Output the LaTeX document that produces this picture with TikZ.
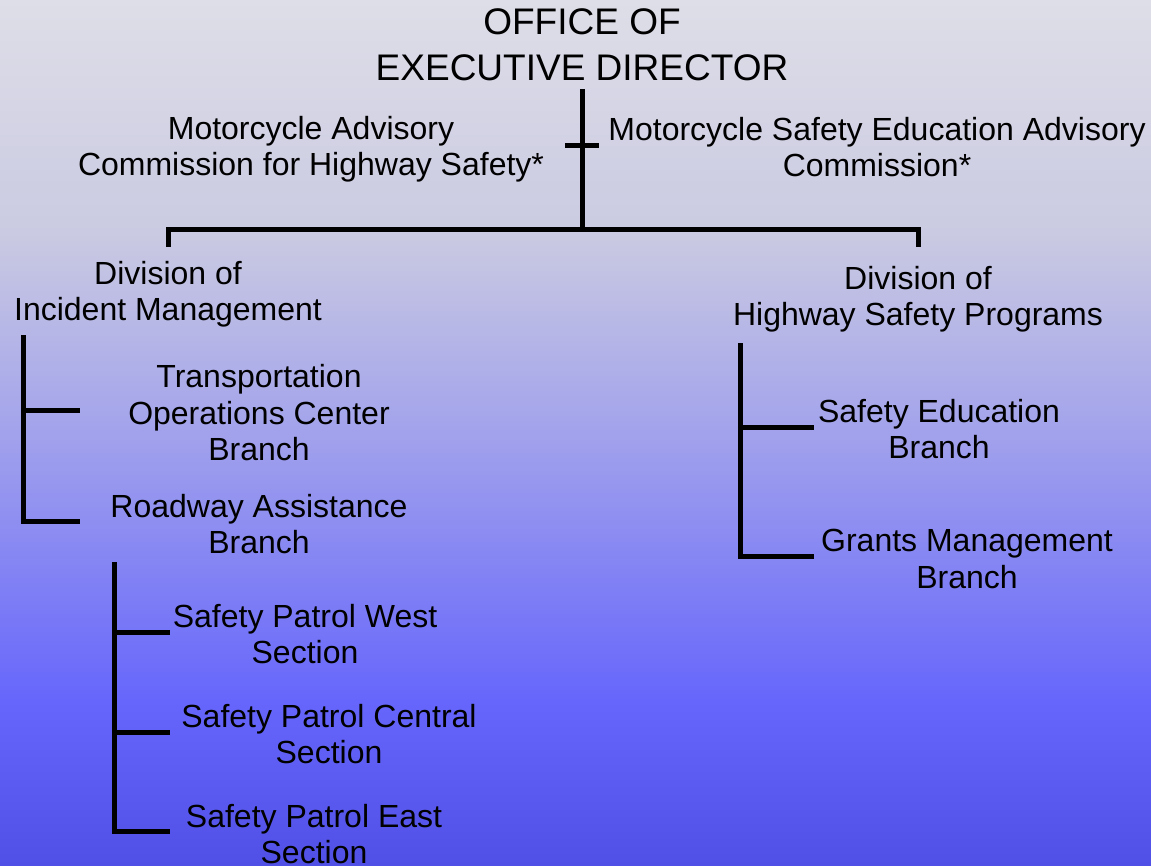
\documentclass[tikz,border=0pt]{standalone}
\usepackage{fontspec}
\setmainfont{Liberation Sans}
\definecolor{bgA}{RGB}{222,222,232}
\definecolor{bgB}{RGB}{202,202,226}
\definecolor{bgC}{RGB}{162,162,236}
\definecolor{bgD}{RGB}{102,102,252}
\definecolor{bgE}{RGB}{80,80,230}
% the path is mapped onto 25bp..75bp of the shading
\pgfdeclareverticalshading{bgshade}{100bp}{
  color(0bp)=(bgE);
  color(25bp)=(bgE);
  color(34.5bp)=(bgD);
  color(50bp)=(bgC);
  color(61.5bp)=(bgB);
  color(75bp)=(bgA);
  color(100bp)=(bgA)}
\begin{document}
\begin{tikzpicture}[x=1pt,y=-1pt,
  lbl/.style={inner sep=0pt,align=center,font=\fontsize{32}{36.5}\selectfont},
  ttl/.style={inner sep=0pt,align=center,font=\fontsize{37}{46}\selectfont},
  conn/.style={line width=5pt,line cap=rect,line join=miter}]
\shade[shading=bgshade] (0,0) rectangle (1151,865);
\useasboundingbox (0,0) rectangle (1151,865);
% texts
\node[ttl] (ed) at (582,45) {OFFICE OF\\EXECUTIVE DIRECTOR};
\node[lbl] (mac) at (311,149) {Motorcycle Advisory\\Commission for Highway Safety*};
\node[lbl] (msea) at (877,147) {Motorcycle Safety Education Advisory\\Commission*};
\node[lbl] (dim) at (168,294) {Division of\\Incident Management};
\node[lbl] (dhsp) at (918,299) {Division of\\Highway Safety Programs};
\node[lbl] (toc) at (259,413) {Transportation\\Operations Center\\Branch};
\node[lbl] (rab) at (259,524) {Roadway Assistance\\Branch};
\node[lbl] (spw) at (305,634) {Safety Patrol West\\Section};
\node[lbl] (spc) at (329,734) {Safety Patrol Central\\Section};
\node[lbl] (spe) at (314,834) {Safety Patrol East\\Section};
\node[lbl] (seb) at (939,429) {Safety Education\\Branch};
\node[lbl] (gmb) at (967,559) {Grants Management\\Branch};
% coordinates
\coordinate (edb) at (582,91);
\coordinate (bus) at (582,229);
\coordinate (tickL) at (565,145);
\coordinate (tickR) at (599,145);
\coordinate (busL) at (168,229);
\coordinate (busR) at (918,229);
\coordinate (dimTop) at (168,244);
\coordinate (dhspTop) at (918,244);
\coordinate (lTop) at (23,337);
\coordinate (lTocJ) at (23,410);
\coordinate (lTocE) at (77,410);
\coordinate (lRabJ) at (23,521);
\coordinate (lRabE) at (77,521);
\coordinate (sTop) at (114,564);
\coordinate (sWJ) at (114,632);
\coordinate (sWE) at (167,632);
\coordinate (sCJ) at (114,732);
\coordinate (sCE) at (167,732);
\coordinate (sEJ) at (114,831);
\coordinate (sEE) at (167,831);
\coordinate (rTop) at (740,345);
\coordinate (rSJ) at (740,427);
\coordinate (rSE) at (811,427);
\coordinate (rGJ) at (740,556);
\coordinate (rGE) at (811,556);
% connectors
\draw[conn] (edb) -- (bus);
\draw[conn,line cap=butt] (tickL) -- (tickR);
\draw[conn] (dimTop) -- (busL) -- (busR) -- (dhspTop);
\draw[conn] (lTop) -- (lRabJ) -- (lRabE);
\draw[conn] (lTocJ) -- (lTocE);
\draw[conn] (sTop) -- (sEJ) -- (sEE);
\draw[conn] (sWJ) -- (sWE);
\draw[conn] (sCJ) -- (sCE);
\draw[conn] (rTop) -- (rGJ) -- (rGE);
\draw[conn] (rSJ) -- (rSE);
\end{tikzpicture}
\end{document}
